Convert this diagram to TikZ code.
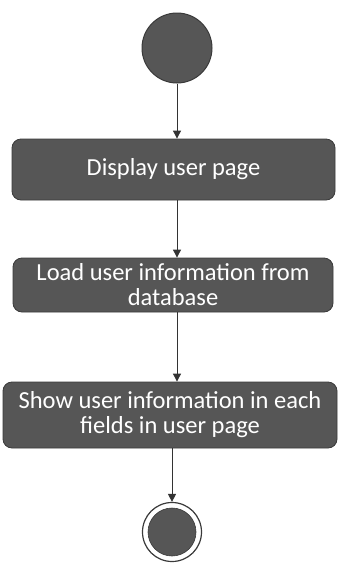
\documentclass[tikz,border=0pt]{standalone}
\usepackage{fontspec}
\setmainfont{Carlito}
\usetikzlibrary{arrows.meta}
\definecolor{boxfill}{HTML}{565656}
\definecolor{boxedge}{HTML}{3A3A3A}
\definecolor{linecol}{HTML}{333333}
\begin{document}
\begin{tikzpicture}[x=1pt,y=1pt,
  act/.style={draw=boxedge,line width=0.8pt,fill=boxfill,rounded corners=9pt,
    text=white,align=center,inner sep=0pt,
    font=\fontsize{24.5}{25}\selectfont},
  flow/.style={draw=linecol,line width=0.9pt,-{Triangle[width=8pt,length=8pt]}},
  startnode/.style={circle,draw=boxedge,line width=1pt,fill=boxfill,minimum size=70pt,inner sep=0pt},
  endouter/.style={circle,draw=boxedge,line width=1.2pt,fill=white,minimum size=59pt,inner sep=0pt},
  endinner/.style={circle,fill=boxfill,draw=boxedge,line width=0.6pt,minimum size=48pt,inner sep=0pt}
]
\useasboundingbox (0,0) rectangle (338,-574);
\node[startnode] (start) at (177,-48) {};
\node[act,minimum width=323pt,minimum height=61pt] (b1) at (173.5,-169.5) {Display user page};
\node[act,minimum width=320pt,minimum height=54pt] (b2) at (173,-285) {Load user information from\\database};
\node[act,minimum width=334pt,minimum height=66pt] (b3) at (170,-415) {Show user information in each\\fields in user page};
\node[endouter] (endo) at (172,-532) {};
\node[endinner] (endi) at (endo.center) {};
\draw[flow] (start.south) -- (start.south |- b1.north);
\draw[flow] (b1.south -| start.south) -- (b2.north -| start.south);
\draw[flow] (b2.south -| start.south) -- (b3.north -| start.south);
\draw[flow] (b3.south -| endo.north) -- (endo.north);
\end{tikzpicture}
\end{document}
